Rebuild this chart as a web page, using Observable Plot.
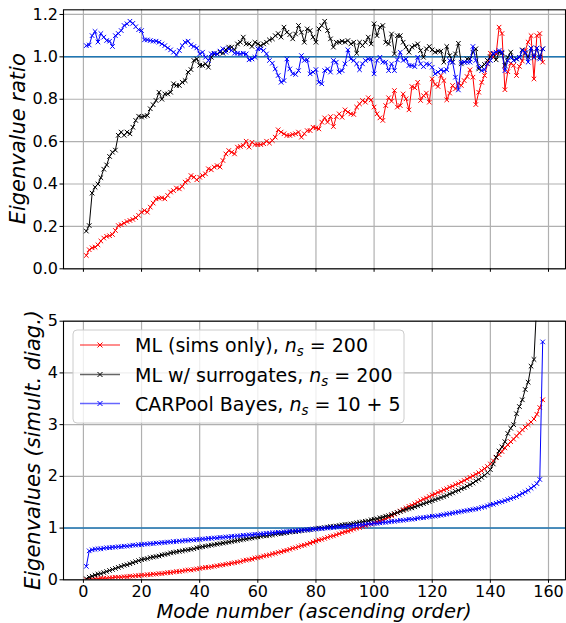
<!DOCTYPE html>
<html><head><meta charset="utf-8">
<script src="https://cdn.jsdelivr.net/npm/d3@7"></script>
<script src="https://cdn.jsdelivr.net/npm/@observablehq/plot@0.6"></script>
<style>
html,body{margin:0;padding:0;background:#fff;}
#wrap{position:relative;width:566px;height:623px;overflow:hidden;font-family:"DejaVu Sans";}
</style></head><body><div id="wrap"></div>
<script>
// x categories: mode numbers
const modes = d3.range(1, 159);
const xTicks = [0, 20, 40, 60, 80, 100, 120, 140, 160];
const yTicksTop = [0, 0.2, 0.4, 0.6, 0.8, 1.0, 1.2];
const yTicksBottom = [0, 1, 2, 3, 4, 5];

// Top panel: eigenvalue ratio
const ratioML = [0.063,0.090,0.099,0.102,0.113,0.131,0.145,0.153,0.156,0.162,
0.181,0.204,0.208,0.215,0.223,0.228,0.233,0.241,0.252,0.267,
0.275,0.267,0.291,0.310,0.330,0.333,0.335,0.330,0.346,0.362,
0.369,0.381,0.377,0.388,0.409,0.417,0.440,0.432,0.420,0.432,
0.440,0.448,0.472,0.467,0.480,0.487,0.480,0.511,0.542,0.558,
0.550,0.542,0.574,0.577,0.582,0.602,0.574,0.597,0.586,0.586,
0.586,0.590,0.602,0.593,0.605,0.621,0.656,0.645,0.637,0.629,
0.629,0.634,0.637,0.645,0.621,0.637,0.652,0.652,0.668,0.665,
0.660,0.692,0.712,0.692,0.718,0.671,0.718,0.731,0.715,0.750,
0.739,0.731,0.728,0.763,0.778,0.794,0.786,0.807,0.797,0.763,
0.731,0.712,0.700,0.770,0.807,0.791,0.841,0.763,0.770,0.825,
0.802,0.750,0.860,0.854,0.880,0.794,0.817,0.829,0.786,0.896,
0.870,0.860,0.912,0.888,0.797,0.829,0.865,0.849,0.876,0.865,
0.888,0.907,0.939,0.904,0.775,0.833,0.880,0.912,0.967,1.017,
0.998,1.014,1.140,1.110,0.845,0.930,0.970,0.960,0.912,0.955,
0.980,1.030,1.070,1.100,0.896,1.100,1.110,0.975];

const ratioSurr = [0.178,0.204,0.357,0.385,0.400,0.430,0.470,0.490,0.530,0.550,
0.560,0.630,0.645,0.630,0.645,0.637,0.668,0.700,0.720,0.716,
0.720,0.723,0.755,0.774,0.794,0.833,0.800,0.825,0.825,0.833,
0.873,0.865,0.865,0.880,0.888,0.928,0.940,0.983,0.990,0.960,
0.959,0.967,0.951,0.998,1.014,1.014,1.022,1.017,1.033,1.046,
1.046,1.033,1.061,1.069,1.093,1.061,1.061,1.049,1.069,1.061,
1.053,1.061,1.069,1.080,1.085,1.100,1.110,1.093,1.140,1.116,
1.105,1.085,1.108,1.148,1.116,1.069,1.132,1.124,1.093,1.069,
1.132,1.148,1.168,1.124,1.085,1.046,1.069,1.069,1.074,1.069,
1.077,1.061,1.069,1.017,1.069,1.053,1.069,1.093,1.061,1.156,
1.100,1.140,1.148,1.069,1.061,1.108,1.014,1.100,1.100,1.069,
1.046,1.022,1.046,1.053,1.061,1.030,0.998,1.038,1.049,1.033,
1.022,1.027,1.027,0.975,1.049,1.006,0.975,1.014,1.064,0.967,
0.975,0.990,0.990,1.022,1.038,0.943,0.954,0.964,0.983,1.000,
1.014,0.986,1.022,1.017,0.959,0.998,1.022,0.983,0.990,0.998,
1.033,1.017,0.998,1.041,0.998,1.041,0.998,1.038];

const ratioBayes = [1.053,1.056,1.100,1.120,1.070,1.110,1.093,1.077,1.074,1.049,
1.100,1.110,1.124,1.148,1.156,1.168,1.158,1.142,1.128,1.124,
1.080,1.080,1.077,1.074,1.074,1.069,1.061,1.053,1.042,1.033,
1.022,1.009,1.030,1.053,1.069,1.074,1.057,1.049,1.042,1.014,
1.022,0.998,0.983,1.014,1.017,1.014,1.027,1.038,1.022,1.038,
1.030,1.017,1.017,1.014,1.017,1.014,0.986,0.990,0.998,1.038,
1.038,1.030,1.014,0.983,0.970,0.943,0.912,0.880,0.888,0.990,
0.943,0.920,0.917,0.935,1.006,0.983,0.986,0.920,0.928,0.940,
0.880,0.873,0.935,0.943,0.928,0.983,0.975,0.928,0.935,0.967,
1.033,0.990,0.983,0.967,0.939,0.967,0.983,0.990,0.990,0.920,
0.983,0.998,0.975,0.975,0.935,0.967,0.935,0.986,1.022,0.983,
0.990,0.959,0.959,0.954,0.998,0.967,0.954,0.967,0.964,0.951,
0.920,0.928,0.939,0.932,0.939,0.983,0.975,0.904,0.844,0.975,
0.975,0.975,0.975,1.049,0.983,0.951,0.935,0.939,0.967,0.983,
1.017,1.022,1.030,1.022,0.935,0.983,0.998,0.983,0.990,0.998,
1.030,1.022,0.975,1.041,0.998,1.041,0.990,1.038];

// Bottom panel: eigenvalues (simultaneous diagonalization)
const eigML = [0.00,0.01,0.01,0.02,0.02,0.03,0.03,0.03,0.04,0.04,
0.05,0.05,0.05,0.06,0.06,0.07,0.07,0.08,0.08,0.09,
0.09,0.10,0.10,0.11,0.11,0.12,0.12,0.13,0.14,0.14,
0.15,0.16,0.16,0.17,0.18,0.19,0.19,0.20,0.21,0.22,
0.23,0.24,0.24,0.25,0.26,0.27,0.28,0.29,0.30,0.31,
0.32,0.33,0.34,0.35,0.37,0.38,0.39,0.40,0.42,0.43,
0.44,0.46,0.47,0.48,0.50,0.51,0.53,0.54,0.56,0.57,
0.59,0.61,0.62,0.64,0.66,0.67,0.69,0.71,0.73,0.75,
0.77,0.78,0.80,0.82,0.84,0.85,0.87,0.89,0.91,0.93,
0.94,0.96,0.98,1.00,1.01,1.03,1.05,1.07,1.08,1.10,
1.12,1.14,1.16,1.18,1.21,1.24,1.27,1.30,1.33,1.36,
1.39,1.42,1.44,1.47,1.50,1.53,1.56,1.58,1.61,1.64,
1.66,1.69,1.71,1.74,1.76,1.79,1.81,1.84,1.86,1.89,
1.92,1.95,1.98,2.01,2.04,2.07,2.11,2.15,2.19,2.24,
2.30,2.36,2.42,2.48,2.55,2.61,2.67,2.72,2.78,2.84,
2.90,2.95,3.00,3.05,3.11,3.20,3.33,3.48];

const eigSurr = [0.02,0.05,0.07,0.09,0.11,0.12,0.14,0.16,0.18,0.20,
0.22,0.24,0.26,0.28,0.29,0.31,0.33,0.35,0.37,0.39,
0.40,0.41,0.43,0.44,0.45,0.46,0.48,0.49,0.50,0.52,
0.53,0.54,0.55,0.56,0.57,0.58,0.59,0.60,0.62,0.63,
0.64,0.65,0.66,0.67,0.68,0.69,0.70,0.71,0.72,0.73,
0.74,0.75,0.76,0.77,0.78,0.79,0.80,0.81,0.82,0.83,
0.84,0.85,0.85,0.86,0.87,0.88,0.89,0.89,0.90,0.91,
0.92,0.93,0.93,0.94,0.95,0.96,0.96,0.97,0.98,0.99,
1.00,1.00,1.01,1.02,1.03,1.03,1.04,1.05,1.06,1.07,
1.07,1.08,1.09,1.10,1.11,1.12,1.13,1.14,1.16,1.17,
1.18,1.20,1.21,1.23,1.24,1.26,1.28,1.30,1.32,1.34,
1.36,1.38,1.39,1.41,1.43,1.45,1.47,1.49,1.51,1.53,
1.55,1.57,1.59,1.61,1.63,1.66,1.68,1.71,1.73,1.76,
1.78,1.81,1.84,1.87,1.91,1.94,1.98,2.02,2.07,2.13,
2.24,2.37,2.49,2.57,2.67,2.83,2.93,3.00,3.21,3.35,
3.48,3.68,3.82,4.13,4.26,5.40,6.50,8.50];

const eigBayes = [0.26,0.56,0.58,0.59,0.60,0.60,0.61,0.62,0.62,0.63,
0.63,0.64,0.64,0.65,0.65,0.66,0.67,0.67,0.68,0.68,
0.69,0.69,0.70,0.70,0.71,0.71,0.72,0.72,0.73,0.73,
0.74,0.74,0.75,0.75,0.76,0.76,0.77,0.77,0.78,0.78,
0.79,0.79,0.80,0.80,0.81,0.81,0.82,0.82,0.83,0.83,
0.84,0.84,0.85,0.85,0.86,0.86,0.87,0.87,0.88,0.88,
0.89,0.89,0.90,0.90,0.91,0.91,0.92,0.92,0.93,0.93,
0.94,0.94,0.95,0.95,0.96,0.96,0.97,0.97,0.98,0.98,
0.99,0.99,1.00,1.00,1.01,1.01,1.02,1.02,1.03,1.03,
1.04,1.04,1.05,1.05,1.06,1.06,1.07,1.08,1.08,1.09,
1.09,1.10,1.11,1.11,1.12,1.13,1.13,1.14,1.15,1.15,
1.16,1.17,1.17,1.18,1.19,1.20,1.20,1.21,1.22,1.23,
1.23,1.24,1.25,1.26,1.27,1.28,1.29,1.30,1.31,1.32,
1.33,1.34,1.35,1.36,1.37,1.38,1.40,1.41,1.43,1.45,
1.46,1.48,1.50,1.51,1.53,1.55,1.57,1.59,1.61,1.64,
1.67,1.70,1.73,1.77,1.81,1.86,1.94,4.60];

const seriesNames = ["ML (sims only)", "ML w/ surrogates", "CARPool Bayes"];
const seriesColors = ["red", "black", "blue"];
const seriesNs = ["200", "200", "10 + 5"];

const toRows = vals => vals.map((v, i) => ({mode: modes[i], value: v}));

function seriesMarks(vals, color) {
  const rows = toRows(vals);
  return [
    Plot.line(rows, {x: "mode", y: "value", stroke: color, strokeWidth: 1, clip: true}),
    Plot.dot(rows, {x: "mode", y: "value", symbol: "times", r: 2.2, stroke: color, strokeWidth: 1, clip: true})
  ];
}

const common = {
  width: 566,
  marginLeft: 63,
  marginRight: 1,
  style: {fontFamily: "DejaVu Sans", fontSize: "16px", color: "black", background: "transparent", overflow: "visible"}
};

const topPlot = Plot.plot({
  ...common,
  height: 300,
  marginTop: 9.3,
  marginBottom: 31.7,
  x: {domain: [-6.85, 165.85], inset: 0},
  y: {domain: [0, 1.222], inset: 0},
  marks: [
    Plot.gridX(xTicks, {stroke: "#b0b0b0", strokeOpacity: 1, strokeWidth: 1.2}),
    Plot.gridY(yTicksTop, {stroke: "#b0b0b0", strokeOpacity: 1, strokeWidth: 1.2}),
    Plot.ruleY([1], {stroke: "#1f77b4", strokeWidth: 1.5}),
    ...seriesMarks(ratioML, seriesColors[0]),
    ...seriesMarks(ratioSurr, seriesColors[1]),
    ...seriesMarks(ratioBayes, seriesColors[2]),
    Plot.axisX({ticks: xTicks, tickSize: 3.5, tickFormat: () => "", label: null}),
    Plot.axisY({ticks: yTicksTop, tickSize: 3.5, tickPadding: 2, tickFormat: d3.format(".1f"), fontSize: 16, label: null}),
    Plot.frame({stroke: "black", strokeWidth: 1.1})
  ]
});

const bottomPlot = Plot.plot({
  ...common,
  height: 323,
  marginTop: 20.7,
  marginBottom: 43.7,
  x: {domain: [-6.85, 165.85], inset: 0},
  y: {domain: [0, 5], inset: 0},
  marks: [
    Plot.gridX(xTicks, {stroke: "#b0b0b0", strokeOpacity: 1, strokeWidth: 1.2}),
    Plot.gridY(yTicksBottom, {stroke: "#b0b0b0", strokeOpacity: 1, strokeWidth: 1.2}),
    Plot.ruleY([1], {stroke: "#1f77b4", strokeWidth: 1.5}),
    ...seriesMarks(eigML, seriesColors[0]),
    ...seriesMarks(eigSurr, seriesColors[1]),
    ...seriesMarks(eigBayes, seriesColors[2]),
    Plot.axisX({ticks: xTicks, tickSize: 3.5, tickPadding: 2, tickFormat: d3.format("d"), fontSize: 16, label: null}),
    Plot.axisY({ticks: yTicksBottom, tickSize: 3.5, tickPadding: 2, tickFormat: d3.format("d"), fontSize: 16, label: null}),
    Plot.frame({stroke: "black", strokeWidth: 1.1})
  ]
});

const wrap = document.getElementById("wrap");
[[topPlot, 0], [bottomPlot, 300]].forEach(([svg, t]) => {
  svg.style.position = "absolute";
  svg.style.left = "0px";
  svg.style.top = t + "px";
  wrap.appendChild(svg);
});

// Overlay: axis labels and legend
const ov = d3.select(wrap).append("svg")
  .attr("width", 566).attr("height", 623)
  .style("position", "absolute").style("left", "0px").style("top", "0px")
  .style("font-family", "DejaVu Sans");

ov.append("text").attr("transform", "translate(25,138.8) rotate(-90)")
  .attr("text-anchor", "middle").attr("font-size", 21).attr("font-style", "italic")
  .text("Eigenvalue ratio");
ov.append("text").attr("transform", "translate(40,450) rotate(-90)")
  .attr("text-anchor", "middle").attr("font-size", 21).attr("font-style", "italic")
  .text("Eigenvalues (simult. diag.)");
ov.append("text").attr("x", 314).attr("y", 618.3)
  .attr("text-anchor", "middle").attr("font-size", 19.5).attr("font-style", "italic")
  .text("Mode number (ascending order)");

// legend
ov.append("rect").attr("x", 73).attr("y", 330).attr("width", 331).attr("height", 93)
  .attr("rx", 4).attr("fill", "white").attr("fill-opacity", 0.8)
  .attr("stroke", "#cccccc").attr("stroke-width", 1);
const rowsY = [345, 374.5, 403.5];
seriesNames.forEach((name, k) => {
  const y = rowsY[k];
  const g = ov.append("g");
  g.append("line").attr("x1", 80).attr("x2", 120).attr("y1", y).attr("y2", y)
    .attr("stroke", seriesColors[k]).attr("stroke-width", 1.5).attr("stroke-opacity", 0.6);
  g.append("path").attr("d", `M${97.5},${y-2.5}L${102.5},${y+2.5}M${97.5},${y+2.5}L${102.5},${y-2.5}`)
    .attr("stroke", seriesColors[k]).attr("stroke-width", 1);
  const t = g.append("text").attr("x", 135).attr("y", y + 7).attr("font-size", 19);
  t.append("tspan").text(name + ", ");
  t.append("tspan").attr("font-style", "italic").text("n");
  t.append("tspan").attr("font-size", 13.3).attr("font-style", "italic").attr("dy", 4).text("s");
  t.append("tspan").attr("dy", -4).text(" = " + seriesNs[k]);
});
</script></body></html>
